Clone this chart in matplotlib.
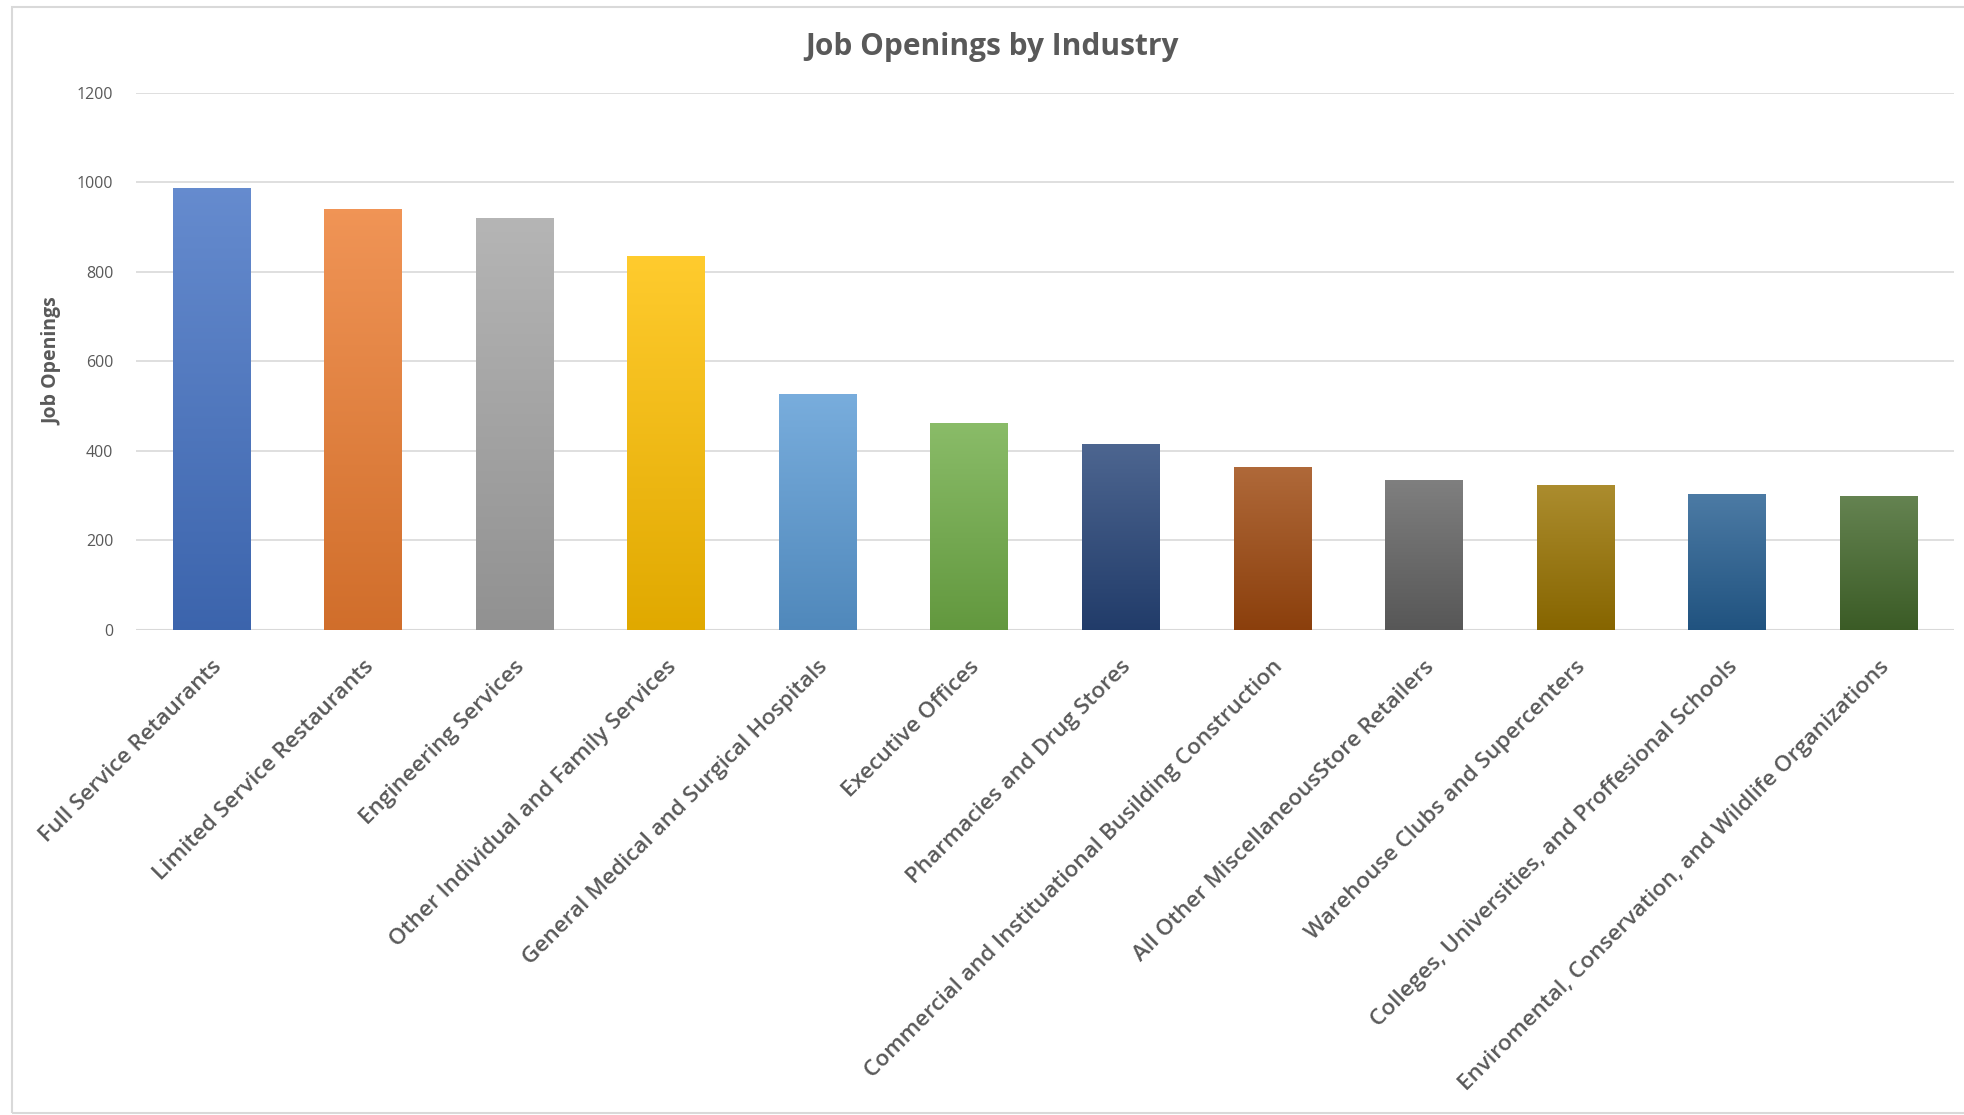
import numpy as np
import matplotlib.pyplot as plt
from matplotlib.colors import to_rgb
from matplotlib.patches import Rectangle

industries = [
    "Full Service Retaurants",
    "Limited Service Restaurants",
    "Engineering Services",
    "Other Individual and Family Services",
    "General Medical and Surgical Hospitals",
    "Executive Offices",
    "Pharmacies and Drug Stores",
    "Commercial and Instituational Busilding Construction",
    "All Other MiscellaneousStore Retailers",
    "Warehouse Clubs and Supercenters",
    "Colleges, Universities, and Proffesional Schools",
    "Enviromental, Conservation, and Wildlife Organizations",
]
openings = [987, 939, 920, 835, 526, 462, 416, 364, 334, 323, 304, 300]
bar_colors = ["#4472C4", "#ED7D31", "#A5A5A5", "#FFC000", "#5B9BD5", "#70AD47",
              "#264478", "#9E480E", "#636363", "#997300", "#255E91", "#43682B"]

TEXT = "#595959"
GRID = "#d9d9d9"
plt.rcParams['font.family'] = ['Open Sans', 'DejaVu Sans']

fig = plt.figure(figsize=(19.64, 11.15), dpi=100)
ax = fig.add_axes([0.069, 0.435, 0.926, 0.482])

x = np.arange(len(industries))
bars = ax.bar(x, openings, width=0.51, color=bar_colors, zorder=2)

# vertical gradient on each bar, lighter at the top
for b, c in zip(bars, bar_colors):
    rgb = np.array(to_rgb(c))
    top = rgb + (1 - rgb) * 0.18
    bot = rgb * 0.88
    t = np.linspace(0, 1, 256)[:, None]
    grad = (top * (1 - t) + bot * t)[:, None, :]
    im = ax.imshow(grad, extent=[b.get_x(), b.get_x() + b.get_width(), 0, b.get_height()],
                   aspect='auto', zorder=3, interpolation='bilinear')
    im.set_clip_path(b)

ax.set_xlim(-0.5, 11.5)
ax.set_ylim(0, 1200)
ax.set_yticks(range(0, 1201, 200))
ax.grid(axis='y', color=GRID, linewidth=1.2, zorder=0)
ax.set_axisbelow(True)
for s in ax.spines.values():
    s.set_visible(False)
ax.axhline(0, color=GRID, linewidth=1.5, zorder=1)
ax.tick_params(axis='both', length=0, colors=TEXT)
ax.tick_params(axis='y', labelsize=11.5, pad=16)

ax.set_xticks(x)
ax.set_xticklabels(industries, rotation=45, ha='right', rotation_mode='anchor',
                   fontsize=16.2, fontweight='semibold', color=TEXT)
ax.tick_params(axis='x', pad=19)

ax.set_ylabel("Job Openings", fontsize=14, fontweight='bold', color=TEXT, labelpad=10)
fig.text(0.505, 0.958, "Job Openings by Industry", fontsize=21.5, fontweight='bold',
         color=TEXT, ha='center', va='center')

# chart border
fig.add_artist(Rectangle((0.006, 0.002), 1.2, 0.992, transform=fig.transFigure,
                         fill=False, edgecolor=GRID, linewidth=1.5))

fig.savefig("out.png", dpi=100, facecolor='white')
